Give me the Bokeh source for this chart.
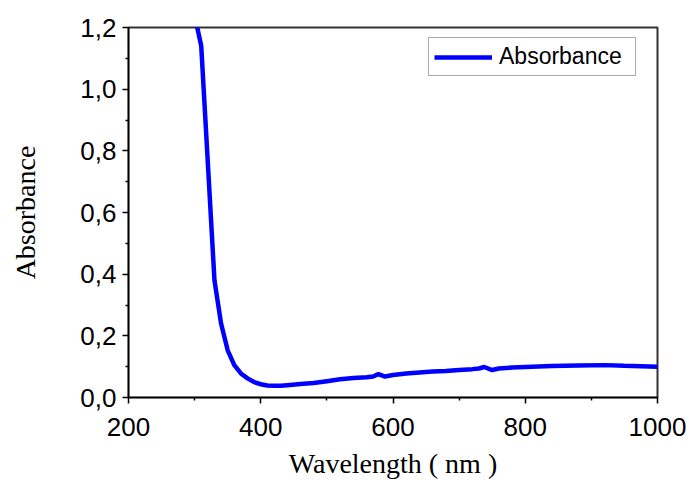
from bokeh.plotting import figure
from bokeh.models import Range1d, FixedTicker, CustomJSTickFormatter, Legend, LegendItem
from bokeh.embed import file_html
from bokeh.resources import INLINE

wavelength = [300, 310, 320, 330, 340, 350, 360, 370, 380, 390, 400, 410, 420, 430, 440,
              460, 480, 500, 520, 540, 560, 570, 578, 588, 600, 620, 640, 660, 680, 700,
              720, 730, 738, 750, 760, 780, 800, 840, 880, 920, 950, 1000]
absorbance = [1.24, 1.14, 0.76, 0.38, 0.24, 0.153, 0.105, 0.078, 0.062, 0.050, 0.043, 0.039,
              0.038, 0.038, 0.040, 0.044, 0.047, 0.053, 0.059, 0.063, 0.066, 0.068, 0.076,
              0.068, 0.073, 0.078, 0.081, 0.084, 0.086, 0.089, 0.092, 0.094, 0.099, 0.089,
              0.094, 0.097, 0.099, 0.102, 0.104, 0.105, 0.103, 0.100]

x_ticks = [200, 400, 600, 800, 1000]
x_minor = [300, 500, 700, 900]
y_ticks = [0.0, 0.2, 0.4, 0.6, 0.8, 1.0, 1.2]
y_minor = [0.1, 0.3, 0.5, 0.7, 0.9, 1.1]

W, H = 694, 482
p = figure(width=W, height=H, output_backend="svg", toolbar_location=None,
           x_range=Range1d(200, 1000), y_range=Range1d(0, 1.2),
           min_border_left=128, min_border_right=W - 657,
           min_border_top=27, min_border_bottom=H - 397)
p.background_fill_color = "white"
p.border_fill_color = "white"
p.grid.visible = False
p.outline_line_color = "#333333"
p.outline_line_width = 2

r = p.line(wavelength, absorbance, line_color="#0000FF", line_width=4.5)

fmt = CustomJSTickFormatter(code="return tick.toFixed(1).replace('.', ',');")

xa = p.xaxis[0]
xa.ticker = FixedTicker(ticks=x_ticks, minor_ticks=x_minor)
ya = p.yaxis[0]
ya.ticker = FixedTicker(ticks=y_ticks, minor_ticks=y_minor)
ya.formatter = fmt

for ax in (xa, ya):
    ax.axis_line_color = "black"
    ax.axis_line_width = 1.5
    ax.major_tick_line_color = "black"
    ax.major_tick_line_width = 1.5
    ax.minor_tick_line_color = "black"
    ax.minor_tick_line_width = 1.5
    ax.major_tick_out = 6
    ax.major_tick_in = 0
    ax.minor_tick_out = 3
    ax.minor_tick_in = 0
    ax.major_label_text_font = "Liberation Sans"
    ax.major_label_text_font_size = "26px"
    ax.major_label_text_color = "black"
    ax.axis_label_text_font = "Liberation Serif"
    ax.axis_label_text_font_style = "normal"
    ax.axis_label_text_font_size = "28px"
    ax.axis_label_text_color = "black"

xa.axis_label = "Wavelength ( nm )"
ya.axis_label = "Absorbance"
xa.major_label_standoff = 14
ya.major_label_standoff = 6
xa.axis_label_standoff = 9
ya.axis_label_standoff = 36

legend = Legend(items=[LegendItem(label="Absorbance", renderers=[r])],
                location=(300, 321))
legend.label_text_font = "Liberation Sans"
legend.label_text_font_size = "23px"
legend.label_text_color = "black"
legend.glyph_width = 58
legend.glyph_height = 22
legend.label_standoff = 7
legend.label_width = 131
legend.padding = 5
legend.margin = 0
legend.border_line_color = "#555555"
legend.border_line_width = 1.2
legend.background_fill_alpha = 1
p.add_layout(legend, "center")

open("out.html", "w").write(file_html(p, INLINE))
